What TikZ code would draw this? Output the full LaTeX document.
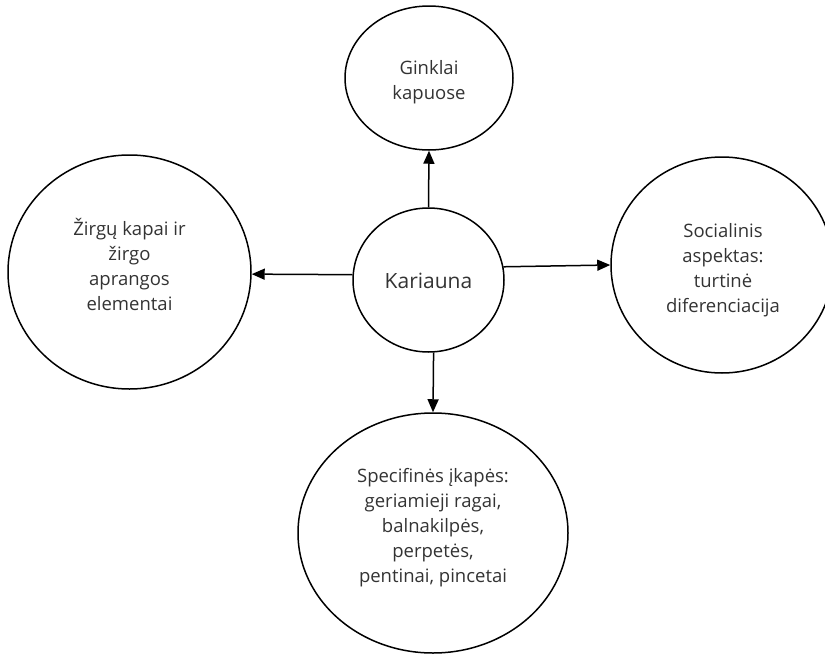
\documentclass[tikz,border=0pt]{standalone}
\usepackage{fontspec}
\setmainfont{Open Sans}
\usetikzlibrary{shapes.geometric,arrows.meta}
\definecolor{txt}{HTML}{333333}
\begin{document}
\begin{tikzpicture}[x=1pt,y=-1pt,
  bub/.style={draw=black,line width=1.5pt,ellipse,inner sep=0pt},
  lbl/.style={align=center,text=txt,font=\fontsize{18.5}{25}\selectfont,inner sep=0pt},
  arr/.style={draw=black,line width=1.5pt,-{Triangle[length=13pt,width=11pt]}}]
\useasboundingbox (0,0) rectangle (825,656);
\clip (0,0) rectangle (825,656);
\node[bub,minimum width=168pt,minimum height=144pt] (A) at (429,78) {};
\node[bub,minimum width=151pt,minimum height=144pt] (K) at (428.5,280) {};
\node[bub,minimum width=243pt,minimum height=234pt] (L) at (129.5,272) {};
\node[bub,minimum width=222pt,minimum height=216pt] (R) at (722,265) {};
\node[bub,minimum width=270pt,minimum height=240pt] (B) at (433,533) {};
\node[lbl] (At) at (429,82) {Ginklai\\kapuose};
\node[lbl,font=\fontsize{21}{25}\selectfont] (Kt) at (428.5,281) {Kariauna};
\node[lbl] (Lt) at (129.5,264) {Žirgų kapai ir\\žirgo\\aprangos\\elementai};
\node[lbl] (Rt) at (723,270) {Socialinis\\aspektas:\\turtinė\\diferenciacija};
\node[lbl] (Bt) at (433,528) {Specifinės įkapės:\\geriamieji ragai,\\balnakilpės,\\perpetės,\\pentinai, pincetai};
\draw[arr] (K.north) -- (A.south);
\draw[arr] (K.176) -- (L.-1);
\draw[arr] (K.10) -- (R.west);
\draw[arr] (K.-86.4) -- (B.north);
\end{tikzpicture}
\end{document}
